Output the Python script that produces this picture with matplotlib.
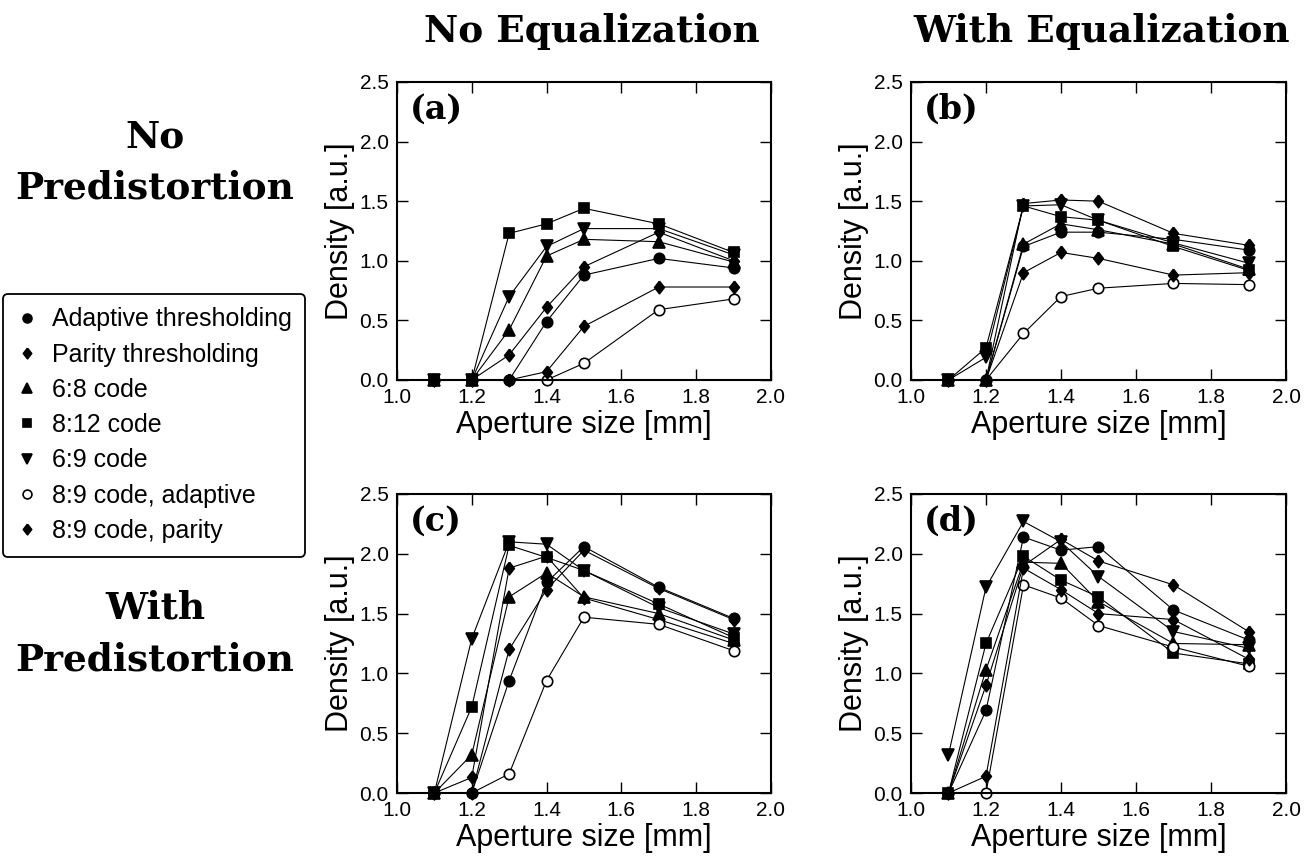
import numpy as np
import matplotlib.pyplot as plt
from matplotlib.lines import Line2D

aperture = [1.1, 1.2, 1.3, 1.4, 1.5, 1.7, 1.9]

labels = ['Adaptive thresholding', 'Parity thresholding', '6:8 code',
          '8:12 code', '6:9 code', '8:9 code, adaptive', '8:9 code, parity']

# (a) no predistortion, no equalization
adaptive_a = [0, 0, 0, 0.49, 0.88, 1.02, 0.94]
parity_a = [0, 0, 0.21, 0.61, 0.95, 1.24, 1.00]
code68_a = [0, 0, 0.42, 1.04, 1.18, 1.16, 0.99]
code812_a = [0, 0, 1.23, 1.31, 1.44, 1.31, 1.07]
code69_a = [0, 0, 0.70, 1.12, 1.27, 1.27, 1.05]
code89a_a = [0, 0, 0, 0, 0.14, 0.59, 0.68]
code89p_a = [0, 0, 0, 0.07, 0.45, 0.78, 0.78]

# (b) no predistortion, with equalization
adaptive_b = [0, 0, 1.12, 1.24, 1.24, 1.18, 1.09]
parity_b = [0, 0, 1.48, 1.51, 1.50, 1.23, 1.13]
code68_b = [0, 0, 1.14, 1.31, 1.26, 1.14, 0.93]
code812_b = [0, 0.27, 1.46, 1.37, 1.34, 1.12, 0.92]
code69_b = [0, 0.19, 1.46, 1.47, 1.34, 1.15, 0.98]
code89a_b = [0, 0, 0.39, 0.70, 0.77, 0.81, 0.80]
code89p_b = [0, 0, 0.90, 1.07, 1.02, 0.88, 0.90]

# (c) with predistortion, no equalization
adaptive_c = [0, 0, 0.94, 1.76, 2.06, 1.72, 1.46]
parity_c = [0, 0.13, 1.88, 1.98, 1.63, 1.45, 1.25]
code68_c = [0, 0.32, 1.64, 1.84, 1.64, 1.50, 1.28]
code812_c = [0, 0.72, 2.07, 1.97, 1.86, 1.58, 1.30]
code69_c = [0, 1.29, 2.10, 2.08, 1.86, 1.55, 1.33]
code89a_c = [0, 0, 0.16, 0.94, 1.47, 1.41, 1.19]
code89p_c = [0, 0, 1.20, 1.70, 2.03, 1.71, 1.45]

# (d) with predistortion, with equalization
adaptive_d = [0, 0.69, 2.14, 2.03, 2.06, 1.53, 1.28]
parity_d = [0, 0.90, 1.90, 2.12, 1.94, 1.74, 1.35]
code68_d = [0, 1.03, 1.93, 1.92, 1.60, 1.25, 1.24]
code812_d = [0, 1.25, 1.98, 1.78, 1.64, 1.17, 1.08]
code69_d = [0.32, 1.72, 2.27, 2.10, 1.81, 1.35, 1.21]
code89a_d = [0, 0, 1.74, 1.63, 1.40, 1.22, 1.06]
code89p_d = [0, 0.14, 1.88, 1.70, 1.50, 1.45, 1.12]

diamond = [(0, 1), (0.78, 0), (0, -1), (-0.78, 0), (0, 1)]
styles = [
    dict(marker='o', ms=7.5, mfc='black'),
    dict(marker=diamond, ms=9, mfc='black'),
    dict(marker='^', ms=8.5, mfc='black'),
    dict(marker='s', ms=7, mfc='black'),
    dict(marker='v', ms=8.5, mfc='black'),
    dict(marker='o', ms=7.5, mfc='white'),
    dict(marker=diamond, ms=9, mfc='black'),
]

panels = [
    ('(a)', [0.3044, 0.5597, 0.2868, 0.3453],
     [adaptive_a, parity_a, code68_a, code812_a, code69_a, code89a_a, code89p_a]),
    ('(b)', [0.6986, 0.5597, 0.2876, 0.3453],
     [adaptive_b, parity_b, code68_b, code812_b, code69_b, code89a_b, code89p_b]),
    ('(c)', [0.3044, 0.0811, 0.2868, 0.3465],
     [adaptive_c, parity_c, code68_c, code812_c, code69_c, code89a_c, code89p_c]),
    ('(d)', [0.6986, 0.0811, 0.2876, 0.3465],
     [adaptive_d, parity_d, code68_d, code812_d, code69_d, code89a_d, code89p_d]),
]

plt.rcParams['font.family'] = ['Liberation Sans', 'DejaVu Sans']
fig = plt.figure(figsize=(13.04, 8.63), dpi=100)

for tag, rect, series in panels:
    ax = fig.add_axes(rect)
    for vals, st in zip(series, styles):
        ax.plot(aperture, vals, color='black', lw=0.8, mec='black', mew=1.2,
                clip_on=False, **st)
    ax.set_xlim(1.0, 2.0)
    ax.set_ylim(0.0, 2.5)
    ax.set_xticks(np.arange(1.0, 2.01, 0.2))
    ax.set_yticks(np.arange(0.0, 2.51, 0.5))
    ax.xaxis.set_major_formatter('{x:.1f}')
    ax.yaxis.set_major_formatter('{x:.1f}')
    ax.tick_params(direction='in', length=8, width=1, top=True, right=True,
                   labelsize=15, pad=6)
    for sp in ax.spines.values():
        sp.set_linewidth(1.5)
    ax.set_xlabel('Aperture size [mm]', fontsize=22, labelpad=2)
    ax.set_ylabel('Density [a.u.]', fontsize=22, labelpad=3)
    ax.text(0.035, 0.965, tag, transform=ax.transAxes, ha='left', va='top',
            fontsize=24, fontweight='bold', family='DejaVu Serif')

head = dict(fontsize=27, fontweight='bold', family='DejaVu Serif',
            ha='center', va='center')
fig.text(592 / 1304, 1 - 32 / 863, 'No Equalization', **head)
fig.text(1102 / 1304, 1 - 32 / 863, 'With Equalization', **head)
fig.text(155 / 1304, 1 - 137 / 863, 'No', **head)
fig.text(155 / 1304, 1 - 188 / 863, 'Predistortion', **head)
fig.text(155 / 1304, 1 - 608 / 863, 'With', **head)
fig.text(155 / 1304, 1 - 660 / 863, 'Predistortion', **head)

handles = [Line2D([], [], ls='none', color='black', mec='black', mew=1.2, **st)
           for st in styles]
leg = fig.legend(handles, labels, loc='center',
                 bbox_to_anchor=(154 / 1304, 1 - 425 / 863),
                 fontsize=18, frameon=True, fancybox=True,
                 labelspacing=0.45, handlelength=0.8, handletextpad=0.6,
                 borderpad=0.55, markerscale=0.85)
leg.get_frame().set_edgecolor('black')
leg.get_frame().set_linewidth(1.3)
leg.get_frame().set_alpha(1)

fig.savefig('out.png', dpi=100)
